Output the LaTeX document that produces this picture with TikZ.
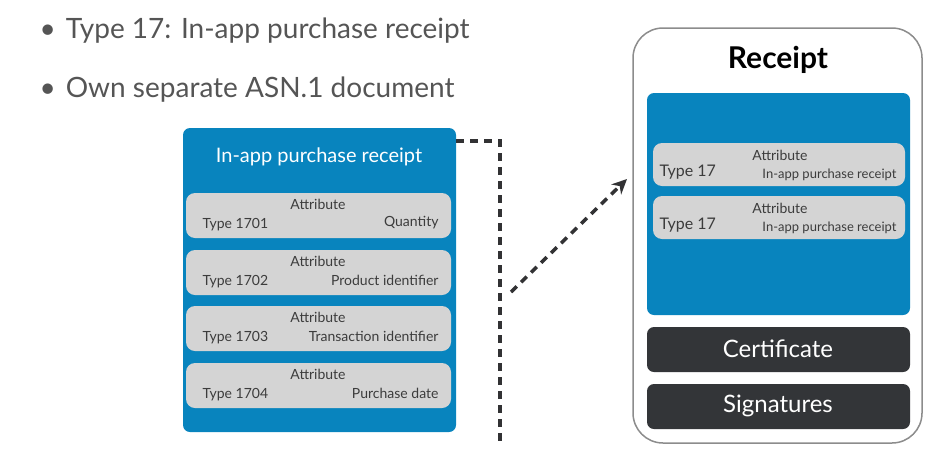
\documentclass[tikz,border=0pt]{standalone}
\usepackage{fontspec}
\setmainfont{Lato}
\usetikzlibrary{arrows.meta}
\definecolor{bluebox}{RGB}{8,132,190}
\definecolor{attrgray}{RGB}{212,212,212}
\definecolor{darkbox}{RGB}{51,53,56}
\definecolor{bullettext}{RGB}{85,85,85}
\definecolor{txtdark}{RGB}{60,60,60}
\definecolor{dashcol}{RGB}{50,50,52}
\definecolor{outline}{RGB}{140,140,140}
\tikzset{
  bluepanel/.style={fill=bluebox, draw=none, rounded corners=7pt},
  attrbox/.style={fill=attrgray, draw=none, rounded corners=9pt},
  darkpanel/.style={fill=darkbox, draw=none, rounded corners=7pt},
  darktxt/.style={text=white, font=\fontsize{24}{26}\selectfont},
  bullet/.style={anchor=west, text=bullettext, font=\fontsize{28}{30}\selectfont},
  attrtxt/.style={text=txtdark, font=\fontsize{14}{16}\selectfont},
  smalltxt/.style={text=txtdark, font=\fontsize{13}{15}\selectfont},
  dashline/.style={draw=dashcol, line width=3.5pt, dash pattern=on 8pt off 6pt},
}
\begin{document}
\begin{tikzpicture}[x=1pt,y=-1pt]
\useasboundingbox (0,0) rectangle (926,469);
% bullets
\node[bullet] (b1) at (36,31) {\textbullet\hspace{10pt}Type 17: In-app purchase receipt};
\node[bullet] (b2) at (36,90) {\textbullet\hspace{10pt}Own separate ASN.1 document};
% left panel
\path[bluepanel] (183,128) rectangle (456,432);
\coordinate (lpTR) at (456,141);
\node[text=white, font=\fontsize{20}{22}\selectfont] (ltitle) at (319,157) {In-app purchase receipt};
\foreach \i/\y/\t/\v in {1/193/1701/Quantity, 2/250/1702/Product identifier, 3/306/1703/Transaction identifier, 4/363/1704/Purchase date}{
  \path[attrbox] (186,\y) rectangle (451,\y+45);
  \node[attrtxt] (la\i) at (318,\y+11) {Attribute};
  \node[attrtxt, anchor=west] (lt\i) at (199,\y+32) {Type \t};
  \node[attrtxt, anchor=east] (lv\i) at (442,\y+30) {\v};
}
% connector
\coordinate (c1) at (500,141);
\coordinate (c2) at (500,442);
\coordinate (a1) at (511,292);
\coordinate (a2) at (627,179);
\draw[dashline] (lpTR) -- (c1) -- (c2);
\draw[dashline, -{Stealth[length=15pt,width=14pt]}] (a1) -- (a2);
% right panel
\draw[draw=outline, line width=1.5pt, rounded corners=30pt, fill=white] (633,28) rectangle (922,443);
\node[font=\bfseries\fontsize{30}{32}\selectfont, text=black] (rtitle) at (778,60) {Receipt};
\path[bluepanel] (647,93) rectangle (910,315);
\foreach \i/\y in {1/143, 2/196}{
  \path[attrbox] (653,\y) rectangle (905,\y+43);
  \node[attrtxt] (ra\i) at (780,\y+12) {Attribute};
  \node[text=txtdark, font=\fontsize{16}{18}\selectfont, anchor=west] (rt\i) at (656,\y+29) {Type 17};
  \node[smalltxt, anchor=east] (rv\i) at (900,\y+32) {In-app purchase receipt};
}
\path[darkpanel] (647,327) rectangle (910,372);
\node[darktxt] (cert) at (778,349) {Certificate};
\path[darkpanel] (647,384) rectangle (910,429);
\node[darktxt] (sig) at (778,406) {Signatures};
\end{tikzpicture}
\end{document}
